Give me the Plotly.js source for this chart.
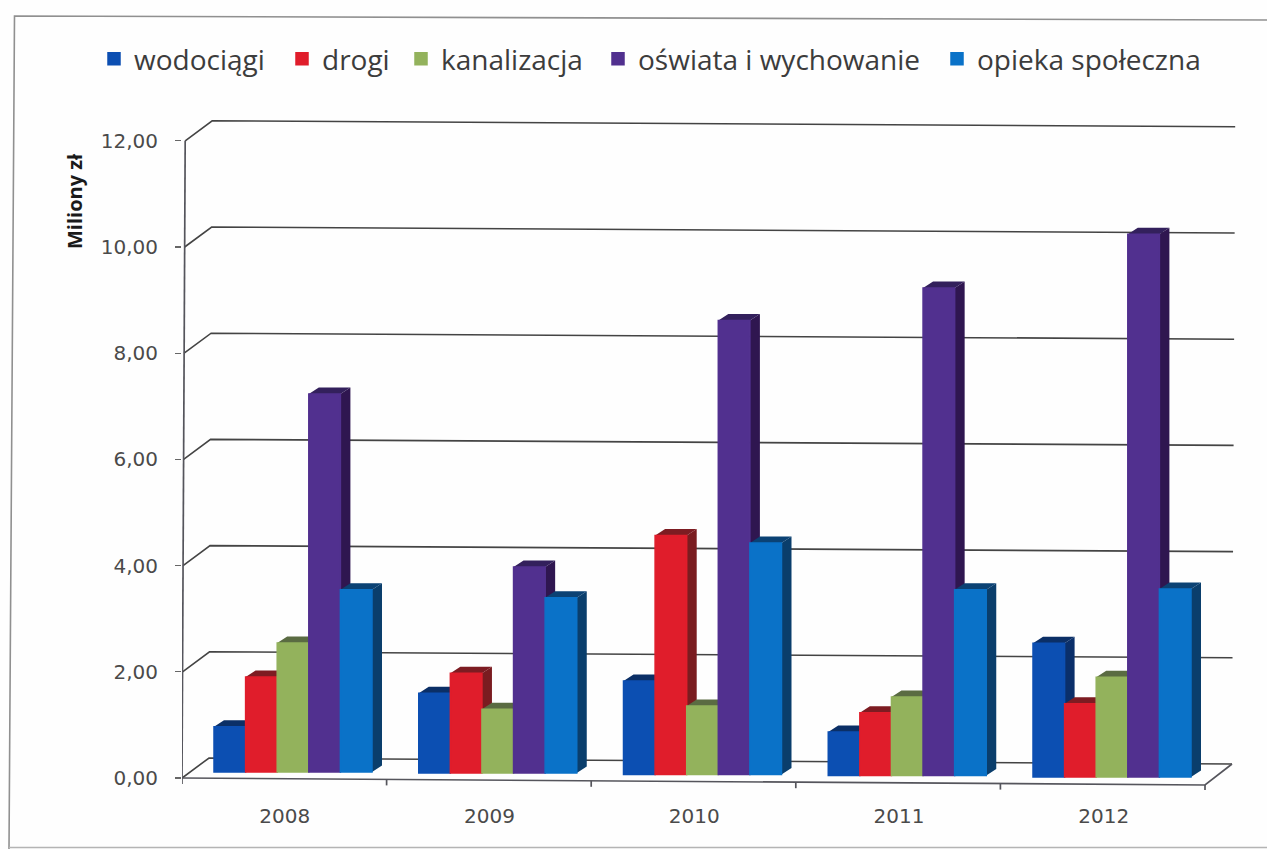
<!DOCTYPE html>
<html><head><meta charset="utf-8">
<script src="https://cdn.plot.ly/plotly-3.0.1.min.js"></script>
<style>html,body{margin:0;padding:0;background:#fff;overflow:hidden}#c{width:1267px;height:849px}</style>
</head><body><div id="c"></div>
<script>
const years=[2008,2009,2010,2011,2012];
const wodociagi=[0.85,1.50,1.76,0.82,2.52];
const drogi=[1.79,1.88,4.50,1.18,1.38];
const kanalizacja=[2.43,1.20,1.29,1.48,1.88];
const oswiata=[7.12,3.88,8.55,9.18,10.22];
const opieka=[3.43,3.30,4.36,3.50,3.54];
const barFloor=[0.113,0.094,0.066,0.047,0.019];
const yTicks=[0,2,4,6,8,10,12];
const names=['wodociągi','drogi','kanalizacja','oświata i wychowanie','opieka społeczna'];
const seriesVals=[wodociagi,drogi,kanalizacja,oswiata,opieka];
const frontCol=['#0c4fb2','#e01d2b','#93b25c','#51308f','#0a72c8'];
const sideCol=['#0a2f6a','#7a1c20','#5d6f41','#2f1650','#0a3e6c'];
const topCol=['#0b2f66','#7d1c22','#5a6b42','#33205c','#0b4274'];
const legendX=[94,282,401,598,937];

const W=1267,H=849,L=182,R=1240,T=115,B=790;
const pxX=204.75,pxY=53.1,tickGap=204.6;
const xMin=2008-(293-L)/pxX, xMax=xMin+(R-L)/pxX;
const yMin=-(B-778)/pxY, yMax=(778-T)/pxY;
const X=p=>xMin+(p-L)/pxX;
const bw=31.6/pxX, gw=bw*5;
const ddx=10/pxX, ddy=6.5/pxY;

const traces=[];
// wall and floor lines
const wallDx=27/pxX, wallDy=20/pxY, wallTilt=6/pxY;
const gx=[],gy=[];
yTicks.forEach(v=>{
  const sk=v*53.1*0.005/pxX;
  gx.push(xMin+sk,xMin+sk+wallDx,X(1232)+sk,null);
  gy.push(v,v+wallDy,v+wallDy-wallTilt,null);
});
traces.push({type:'scatter',mode:'lines',x:gx,y:gy,line:{color:'#444444',width:1.6},showlegend:false,hoverinfo:'skip'});
// axis lines, with the tick marks under the tilted base
const frontTilt=7/pxY;
const ax=[xMin,X(1205),X(1232),null,xMin,xMin+12*53.1*0.005/pxX,null];
const ay=[0,-frontTilt,wallDy-wallTilt,null,0,12,null];
for(let i=0;i<=5;i++){
  const x=X(L+i*tickGap), b=-frontTilt*i/5;
  ax.push(x,x,null); ay.push(b,b-6/pxY,null);
}
traces.push({type:'scatter',mode:'lines',x:ax,y:ay,line:{color:'#55555c',width:1.7},showlegend:false,hoverinfo:'skip'});
// the side and top faces, left to right
seriesVals.forEach((vals,s)=>{
  const sx=[],sy=[],tx=[],ty=[];
  vals.forEach((v,i)=>{
    const xl=years[i]-gw/2+s*bw, xr=xl+bw, b=barFloor[i], t=b+v;
    sx.push(xr,xr+ddx,xr+ddx,xr,xr,null);
    sy.push(b,b+ddy,t+ddy,t,b,null);
    tx.push(xl,xl+ddx,xr+ddx,xr,xl,null);
    ty.push(t,t+ddy,t+ddy,t,t,null);
  });
  traces.push({type:'scatter',mode:'lines',x:sx,y:sy,fill:'toself',fillcolor:sideCol[s],line:{width:0},showlegend:false,hoverinfo:'skip'});
  traces.push({type:'scatter',mode:'lines',x:tx,y:ty,fill:'toself',fillcolor:topCol[s],line:{width:0},showlegend:false,hoverinfo:'skip'});
});
// front faces
seriesVals.forEach((vals,s)=>{
  traces.push({type:'bar',name:names[s],x:years,y:vals,base:barFloor,
    xaxis:'x2',yaxis:'y2',marker:{color:frontCol[s],line:{width:1.5,color:frontCol[s]}},
    legend:s===0?'legend':'legend'+(s+1),showlegend:true});
});

const tickFont={family:'"DejaVu Sans",sans-serif',size:20,color:'#4a4a4a'};
const layout={
  width:W,height:H,autosize:false,
  margin:{l:L,r:W-R,t:T,b:H-B,pad:0},
  paper_bgcolor:'#fefefe',plot_bgcolor:'rgba(0,0,0,0)',
  separators:', ',
  barmode:'group',bargap:1-gw,bargroupgap:0,
  font:{family:'"Open Sans",sans-serif',color:'#404040'},
  xaxis:{type:'linear',range:[xMin,xMax],tickvals:years.map(y=>y-0.04),ticktext:years.map(String),
    ticks:'',showgrid:false,zeroline:false,showline:false,
    ticklabelstandoff:12,tickfont:tickFont},
  yaxis:{range:[yMin,yMax],tickvals:yTicks,tickformat:'.2f',ticks:'outside',ticklen:6,tickwidth:1.2,tickcolor:'#666',
    showgrid:false,zeroline:false,showline:false,ticklabelstandoff:13,tickfont:tickFont},
  xaxis2:{range:[xMin,xMax],overlaying:'x',visible:false,anchor:'y2'},
  yaxis2:{range:[yMin,yMax],overlaying:'y',visible:false,anchor:'x2'},
  annotations:[{text:'<b>Miliony zł</b>',xref:'paper',yref:'paper',x:(74-L)/(R-L),y:(B-201)/(B-T),
    textangle:-90,showarrow:false,xanchor:'center',yanchor:'middle',font:{family:'"Open Sans",sans-serif',size:20,color:'#1a1a1a'}}],
  shapes:[
    {type:'path',xref:'paper',yref:'paper',layer:'below',
     path:`M ${(9-L)/(R-L)},${(B-849)/(B-T)} L ${(14.5-L)/(R-L)},${(B-16)/(B-T)} L ${(1267-L)/(R-L)},${(B-20)/(B-T)}`,
     line:{color:'#909090',width:1.6}},
    {type:'line',xref:'paper',yref:'paper',layer:'below',
     x0:(9-L)/(R-L),x1:(1267-L)/(R-L),y0:(B-847.5)/(B-T),y1:(B-847.5)/(B-T),
     line:{color:'#b4b4b4',width:1.5}}
  ]
};
names.forEach((n,s)=>{
  layout[s===0?'legend':'legend'+(s+1)]={orientation:'h',xref:'container',yref:'container',
    x:legendX[s]/W,y:1-34/H,xanchor:'left',yanchor:'top',bgcolor:'rgba(0,0,0,0)',
    font:{size:28,color:'#3c3c3c'},itemclick:false,itemdoubleclick:false};
});
Plotly.newPlot('c',traces,layout,{displayModeBar:false,staticPlot:true});
</script></body></html>
